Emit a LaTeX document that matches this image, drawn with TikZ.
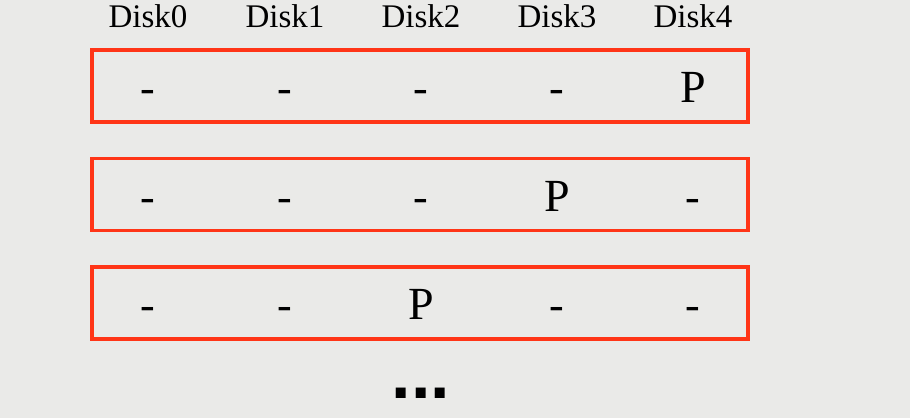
\documentclass[tikz,border=0pt]{standalone}
\usepackage{fontspec}
\setmainfont{Liberation Serif}
\newfontfamily\ellipsisfont{Liberation Sans}
\usetikzlibrary{positioning}
\definecolor{raid_red}{HTML}{FF3517}
\definecolor{slide_gray}{HTML}{EAEAE8}
\colorlet{stripered}{raid_red}
\tikzset{
  stripe/.style={draw=stripered,line width=3.5pt,minimum width=656pt,minimum height=72pt,inner sep=0pt},
  disklabel/.style={anchor=base,inner sep=0pt,font=\fontsize{33}{33}\selectfont},
  cell/.style={anchor=base,inner sep=0pt,font=\fontsize{44}{44}\selectfont},
  parity/.style={cell,font=\fontsize{46}{46}\selectfont},
  moredots/.style={anchor=base,inner sep=0pt,font=\ellipsisfont\bfseries\fontsize{70}{70}\selectfont},
}

\begin{document}
\begin{tikzpicture}[x=1pt,y=-1pt]
	    \fill[slide_gray] (0,0) rectangle (910,418);
	    \useasboundingbox (0,0) rectangle (910,418);
	    % disk headers
	    \node[disklabel] (D0) at (148,27.5) {Disk0};
	    \node[disklabel] (D1) at (285,27.5) {Disk1};
	    \node[disklabel] (D2) at (421,27.5) {Disk2};
	    \node[disklabel] (D3) at (557,27.5) {Disk3};
	    \node[disklabel] (D4) at (693,27.5) {Disk4};
	    % stripes
	    \node[stripe] (S0) at (420,86) {};
	    \node[stripe,below=33pt of S0] (S1) {};
	    \node[stripe,below=33pt of S1] (S2) {};
	    % stripe 0
	    \node[cell] (S0a) at (148,102.5) {-};
	    \node[cell] (S0b) at (285,102.5) {-};
	    \node[cell] (S0c) at (421,102.5) {-};
	    \node[cell] (S0d) at (557,102.5) {-};
	    \node[parity] (S0e) at (693,102.5) {P};
	    % stripe 1
	    \node[cell] (S1a) at (148,211) {-};
	    \node[cell] (S1b) at (285,211) {-};
	    \node[cell] (S1c) at (421,211) {-};
	    \node[parity] (S1d) at (557,211) {P};
	    \node[cell] (S1e) at (693,211) {-};
	    % stripe 2
	    \node[cell] (S2a) at (148,319.5) {-};
	    \node[cell] (S2b) at (285,319.5) {-};
	    \node[parity] (S2c) at (421,319.5) {P};
	    \node[cell] (S2d) at (557,319.5) {-};
	    \node[cell] (S2e) at (693,319.5) {-};
	    \node[moredots] (more) at (421,398) {...};
	\end{tikzpicture}
\end{document}
